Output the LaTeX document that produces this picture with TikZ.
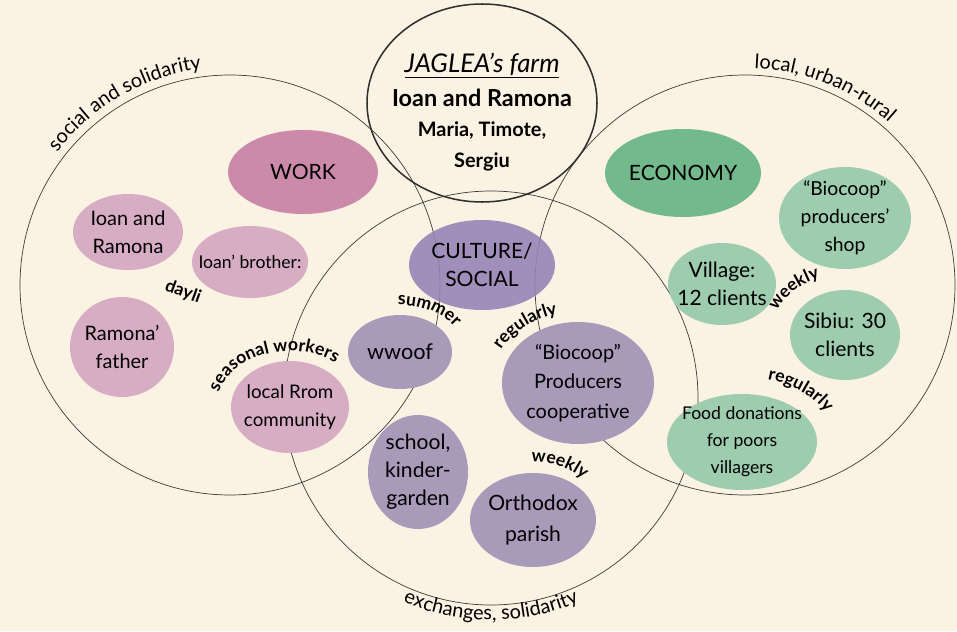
\documentclass[tikz,border=0pt]{standalone}
\usepackage{fontspec}
\setmainfont{Lato}
\usetikzlibrary{decorations.text}
\definecolor{bgc}{RGB}{250,242,226}
\definecolor{ringc}{RGB}{60,60,60}
\definecolor{workc}{RGB}{204,138,171}
\definecolor{pinkc}{RGB}{214,173,194}
\definecolor{culturec}{RGB}{149,130,182}
\definecolor{purplec}{RGB}{168,155,186}
\definecolor{ecoc}{RGB}{114,185,139}
\definecolor{greenc}{RGB}{157,204,174}
\newcommand\lblfont{\bfseries\fontsize{15}{15}\selectfont}
\newcommand\arcfont{\fontsize{17}{17}\selectfont}
\begin{document}
\begin{tikzpicture}[x=0.03cm,y=0.03cm,line cap=round,line join=round,
  ring/.style={draw=ringc,line width=0.6pt},
  txt/.style={align=center,inner sep=0pt,font=\fontsize{17}{24}\selectfont},
  big/.style={inner sep=0pt,font=\fontsize{18}{24}\selectfont},
  arctext/.style={decorate,decoration={text along path,text align=center,text={#1}}}]
	\fill[bgc] (0,0) rectangle (957,631);
	\draw[ring] (230,346) circle (210);
	\draw[ring] (745,346) circle (210);
	\draw[ring] (491,233) circle (207);
	\path[arctext={|\arcfont|social and solidarity}] (230,346) ++(150:218) arc[start angle=150,end angle=90,radius=218];
	\path[arctext={|\arcfont|local, urban-rural}] (745,346) ++(96:217) arc[start angle=96,end angle=40,radius=217];
	\path[arctext={|\arcfont|exchanges, solidarity}] (491,233) ++(240:222) arc[start angle=240,end angle=300,radius=222];
	\fill[workc] (303,459) ellipse (75 and 42);
	\node[big] (work) at (303,459) {WORK};
	\fill[pinkc] (128,399) ellipse (55 and 38);
	\node[txt] (ioan) at (128,399) {Ioan and\\Ramona};
	\fill[pinkc] (250,369) ellipse (58 and 36);
	\node[txt,font=\fontsize{15}{24}\selectfont] (brother) at (250,369) {Ioan' brother:};
	\fill[pinkc] (122,284) ellipse (52 and 50);
	\node[txt] (father) at (122,284) {Ramona'\\father};
	\fill[pinkc] (290,224) ellipse (59 and 46);
	\node[txt,font=\fontsize{16}{24}\selectfont] (rrom) at (290,224) {local Rrom\\community};
	\node[rotate=-20,inner sep=0pt,font=\lblfont] (dayli) at (183,339) {dayli};
	\path[arctext={|\lblfont|seasonal workers}] (290,224) ++(196:74 and 56) arc[start angle=196,end angle=24,x radius=74,y radius=56];
	\fill[culturec,fill opacity=0.88] (482,366) ellipse (73 and 45);
	\node[big,align=center] (culture) at (482,366) {CULTURE/\\SOCIAL};
	\fill[purplec] (400,279) ellipse (52 and 37);
	\node[txt,font=\fontsize{18.5}{24}\selectfont] (wwoof) at (400,279) {wwoof};
	\path[arctext={|\lblfont|summer}] (400,279) ++(104:64 and 47) arc[start angle=104,end angle=16,x radius=64,y radius=47];
	\fill[purplec] (578,248) ellipse (76 and 61);
	\node[txt,font=\fontsize{17}{25}\selectfont] (coop) at (578,248) {“Biocoop”\\Producers\\cooperative};
	\path[arctext={|\lblfont|regularly}] (578,248) ++(166:87 and 71) arc[start angle=166,end angle=92,x radius=87,y radius=71];
	\fill[purplec] (418,159) ellipse (50 and 57);
	\node[txt,font=\fontsize{18}{24}\selectfont] (school) at (418,159) {school,\\kinder-\\garden};
	\fill[purplec] (533,111) ellipse (63 and 47);
	\node[txt,font=\fontsize{18}{27}\selectfont] (parish) at (533,111) {Orthodox\\parish};
	\path[arctext={|\lblfont|weekly}] (533,111) ++(104:70 and 58) arc[start angle=104,end angle=30,x radius=70,y radius=58];
	\fill[ecoc] (683,458) ellipse (78 and 44);
	\node[big] (economy) at (683,458) {ECONOMY};
	\fill[greenc] (845,413) ellipse (66 and 51);
	\node[txt,font=\fontsize{16.5}{24}\selectfont] (shop) at (845,413) {“Biocoop”\\producers'\\shop};
	\fill[greenc] (722,347) ellipse (54 and 41);
	\node[txt,font=\fontsize{18}{24}\selectfont] (village) at (722,347) {Village:\\12 clients};
	\fill[greenc] (845,296) ellipse (55 and 45);
	\node[txt,font=\fontsize{18}{24}\selectfont] (sibiu) at (845,296) {Sibiu: 30\\clients};
	\path[arctext={|\lblfont|weekly}] (845,296) ++(166:74 and 61) arc[start angle=166,end angle=102,x radius=74,y radius=61];
	\fill[greenc] (742,189) ellipse (75 and 48);
	\node[txt,font=\fontsize{15}{23}\selectfont] (food) at (742,189) {Food donations\\for poors\\villagers};
	\path[arctext={|\lblfont|regularly}] (742,189) ++(88:94 and 65) arc[start angle=88,end angle=8,x radius=94,y radius=65];
	\draw[draw=ringc!80!black,line width=1.3pt] (482,528) ellipse (115 and 99);
	\node[align=center,inner sep=0pt,font=\bfseries\fontsize{17}{26}\selectfont] (farm) at (482,519)
		{\mdseries\itshape\fontsize{22}{24}\selectfont\underline{JAGLEA's farm}\\[3pt]
		\fontsize{20}{24}\selectfont Ioan and Ramona\\Maria, Timote,\\Sergiu};
\end{tikzpicture}
\end{document}
